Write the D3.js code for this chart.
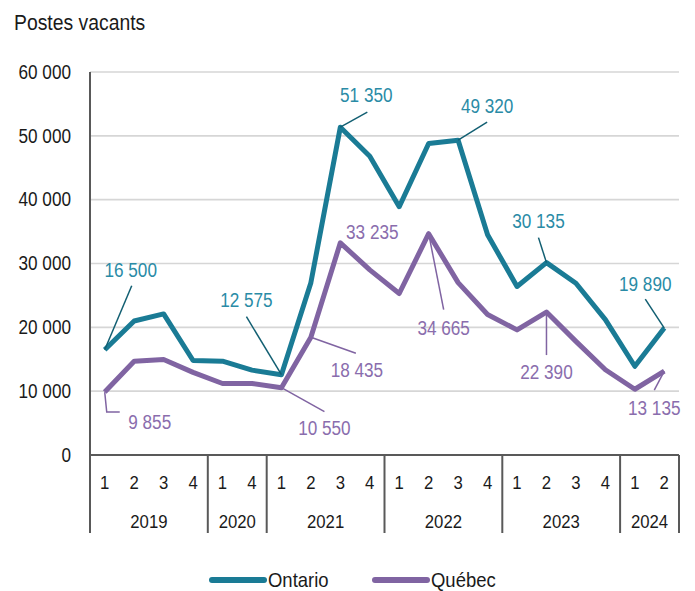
<!DOCTYPE html>
<html>
<head>
<meta charset="utf-8">
<script src="https://cdn.jsdelivr.net/npm/d3@7"></script>
<style>
  html, body { margin: 0; padding: 0; background: #ffffff; }
  svg { display: block; font-family: "Liberation Sans", Arial, sans-serif; }
</style>
</head>
<body>
<svg id="chart" width="695" height="591"></svg>
<script>
// ---------- DATA ----------
const quarters = ["1","2","3","4","1","4","1","2","3","4","1","2","3","4","1","2","3","4","1","2"];
const years    = ["2019","2019","2019","2019","2020","2020","2021","2021","2021","2021",
                  "2022","2022","2022","2022","2023","2023","2023","2023","2024","2024"];
const ontario  = [16500, 21000, 22100, 14800, 14700, 13300, 12575, 27000, 51350, 46800,
                  38900, 48800, 49320, 34500, 26400, 30135, 26900, 21200, 13900, 19890];
const quebec   = [9855, 14700, 14950, 12950, 11200, 11200, 10550, 18435, 33235, 29000,
                  25300, 34665, 27000, 22000, 19600, 22390, 17800, 13350, 10300, 13135];
const yTicks   = [0, 10000, 20000, 30000, 40000, 50000, 60000];
const seriesNames = ["Ontario", "Québec"];
const titleText = "Postes vacants";

// ---------- LAYOUT / STYLE ----------
const colors = {
  ontLine: "#1a7b95", ontText: "#2a8ba6", ontLeader: "#125f72",
  qcLine: "#8064a2", qcText: "#8a6dad", qcLeader: "#8064a2",
  grid: "#d6d6d6", axis: "#595959", text: "#1a1a1a"
};
const SQ = 0.88; // horizontal condensing of the font
const plotLeft = 90, plotRight = 679, plotTop = 72, plotBottom = 455;

const locale = d3.formatLocale({decimal: ",", thousands: "\u00a0", grouping: [3], currency: ["", " $"]});
const fmt = locale.format(",d");

// label placement: [series, index, textDx, textDy, leaderPts(relative to point) or null]
const annotations = [
  ["ont", 0, 26, -80, [[27, -64]]],
  ["ont", 6, -35, -75, [[-35, -58]]],
  ["ont", 8, 26, -32, [[27, -15]]],
  ["ont", 12, 29, -34, [[29, -18]]],
  ["ont", 15, -8, -42, [[-8, -25]]],
  ["ont", 19, -19, -44, [[-19, -29]]],
  ["qc", 0, 45, 30, [[2, 20], [15, 20]]],
  ["qc", 6, 43, 40, [[43, 24]]],
  ["qc", 7, 46, 33, [[45, 16]]],
  ["qc", 8, 32, -11, null],
  ["qc", 11, 15, 94, [[15, 76]]],
  ["qc", 15, 0, 60, [[0, 43]]],
  ["qc", 19, -10, 37, [[-10, 19]]]
];

const svg = d3.select("#chart");

const x = d3.scaleBand().domain(d3.range(quarters.length)).range([plotLeft, plotRight]).padding(0);
const y = d3.scaleLinear().domain([0, 60000]).range([plotBottom, plotTop]);
const cx = i => x(i) + x.bandwidth() / 2;

function squeeze(sel) {
  sel.each(function() {
    const w = this.getComputedTextLength();
    d3.select(this).attr("textLength", w * SQ).attr("lengthAdjust", "spacingAndGlyphs");
  });
}

// gridlines
svg.append("g").selectAll("line").data(yTicks.filter(d => d > 0)).join("line")
  .attr("x1", plotLeft).attr("x2", plotRight)
  .attr("y1", d => y(d)).attr("y2", d => y(d))
  .attr("stroke", colors.grid).attr("stroke-width", 1.6);

// y axis via d3.axisLeft
const yAxis = svg.append("g").attr("transform", `translate(${plotLeft},0)`)
  .call(d3.axisLeft(y).tickValues(yTicks).tickFormat(fmt).tickSize(0).tickPadding(19));
yAxis.select(".domain").remove();
yAxis.selectAll("text").attr("font-size", 19.5).attr("fill", colors.text)
  .attr("font-family", "Liberation Sans, Arial, sans-serif").call(squeeze);

svg.append("line").attr("x1", plotLeft).attr("x2", plotLeft).attr("y1", plotTop).attr("y2", plotBottom)
  .attr("stroke", colors.axis).attr("stroke-width", 2);

// x axis line
svg.append("line").attr("x1", plotLeft).attr("x2", plotRight).attr("y1", plotBottom).attr("y2", plotBottom)
  .attr("stroke", colors.axis).attr("stroke-width", 2);

// quarter labels
svg.append("g").selectAll("text").data(quarters).join("text")
  .attr("x", (d, i) => cx(i)).attr("y", 482)
  .attr("text-anchor", "middle").attr("dominant-baseline", "central")
  .attr("font-size", 19).attr("fill", colors.text).text(d => d).call(squeeze);

// year groups
const groups = [];
years.forEach((yr, i) => {
  const g = groups.find(g => g.year === yr);
  if (g) g.end = i; else groups.push({year: yr, start: i, end: i});
});
const seps = [x(0)].concat(groups.map(g => x(g.end) + x.bandwidth()));
svg.append("g").selectAll("line").data(seps).join("line")
  .attr("x1", d => d).attr("x2", d => d).attr("y1", plotBottom).attr("y2", 533)
  .attr("stroke", colors.axis).attr("stroke-width", 2);
svg.append("g").selectAll("text").data(groups).join("text")
  .attr("x", g => (x(g.start) + x(g.end) + x.bandwidth()) / 2).attr("y", 521)
  .attr("text-anchor", "middle").attr("dominant-baseline", "central")
  .attr("font-size", 19).attr("fill", colors.text).text(g => g.year).call(squeeze);

// lines
const line = d3.line().x((d, i) => cx(i)).y(d => y(d)).curve(d3.curveLinear);
svg.append("path").datum(quebec).attr("d", line).attr("fill", "none")
  .attr("stroke", colors.qcLine).attr("stroke-width", 5).attr("stroke-linejoin", "round");
svg.append("path").datum(ontario).attr("d", line).attr("fill", "none")
  .attr("stroke", colors.ontLine).attr("stroke-width", 5).attr("stroke-linejoin", "round");

// annotations
const annG = svg.append("g");
annotations.forEach(([s, i, tdx, tdy, pts]) => {
  const vals = s === "ont" ? ontario : quebec;
  const px = cx(i), py = y(vals[i]);
  if (pts) {
    const path = [[px, py]].concat(pts.map(p => [px + p[0], py + p[1]]));
    annG.append("path").attr("d", d3.line()(path)).attr("fill", "none")
      .attr("stroke", s === "ont" ? colors.ontLeader : colors.qcLeader).attr("stroke-width", 1.5);
  }
  annG.append("text").attr("x", px + tdx).attr("y", py + tdy)
    .attr("text-anchor", "middle").attr("dominant-baseline", "central")
    .attr("font-size", 19.5).attr("fill", s === "ont" ? colors.ontText : colors.qcText)
    .text(fmt(vals[i])).call(squeeze);
});

// title
svg.append("text").attr("x", 14).attr("y", 29.5).attr("font-size", 22)
  .attr("fill", colors.text).text(titleText).call(squeeze);

// legend
const legendItems = [
  {name: seriesNames[0], color: colors.ontLine, x0: 210},
  {name: seriesNames[1], color: colors.qcLine, x0: 373}
];
const lg = svg.append("g");
legendItems.forEach(it => {
  lg.append("line").attr("x1", it.x0 + 2).attr("x2", it.x0 + 54).attr("y1", 580).attr("y2", 580)
    .attr("stroke", it.color).attr("stroke-width", 6).attr("stroke-linecap", "round");
  lg.append("text").attr("x", it.x0 + 58).attr("y", 579).attr("dominant-baseline", "central")
    .attr("font-size", 21).attr("fill", colors.text).text(it.name).call(squeeze);
});
</script>
</body>
</html>
